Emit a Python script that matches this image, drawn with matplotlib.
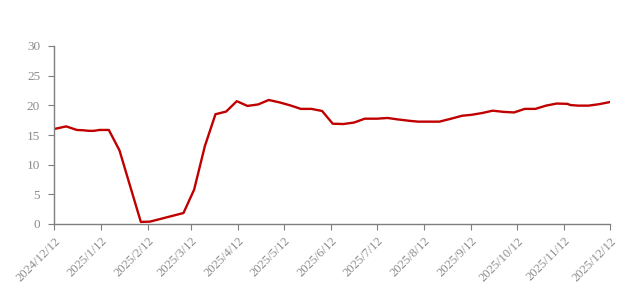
import matplotlib
matplotlib.use("Agg")
import matplotlib.pyplot as plt
import matplotlib.transforms as mtransforms
import pandas as pd

dates = ["2024-12-12", "2024-12-20", "2024-12-27", "2024-12-31", "2025-01-04",
         "2025-01-07", "2025-01-11", "2025-01-17", "2025-01-24", "2025-02-07",
         "2025-02-13", "2025-03-07", "2025-03-14", "2025-03-21", "2025-03-28",
         "2025-04-04", "2025-04-11", "2025-04-18", "2025-04-25", "2025-05-02",
         "2025-05-09", "2025-05-16", "2025-05-23", "2025-05-30", "2025-06-06",
         "2025-06-13", "2025-06-20", "2025-06-27", "2025-07-04", "2025-07-12",
         "2025-07-19", "2025-07-25", "2025-08-02", "2025-08-08", "2025-08-16",
         "2025-08-22", "2025-08-29", "2025-09-06", "2025-09-12", "2025-09-19",
         "2025-09-26", "2025-10-03", "2025-10-10", "2025-10-17", "2025-10-24",
         "2025-10-31", "2025-11-07", "2025-11-14", "2025-11-16", "2025-11-21",
         "2025-11-28", "2025-12-05", "2025-12-12"]
values = [16.0, 16.45, 15.85, 15.8, 15.7,
          15.7, 15.85, 15.85, 12.4, 0.35,
          0.4, 1.85, 5.8, 13.1, 18.5,
          18.95, 20.7, 19.9, 20.15, 20.9,
          20.5, 20.0, 19.4, 19.4, 19.05,
          16.9, 16.85, 17.1, 17.75, 17.75,
          17.87, 17.65, 17.4, 17.25, 17.25,
          17.25, 17.7, 18.25, 18.4, 18.7,
          19.1, 18.9, 18.8, 19.4, 19.4,
          19.95, 20.3, 20.25, 20.05, 19.95,
          19.95, 20.2, 20.56]
tick_dates = ["2024-12-12", "2025-01-12", "2025-02-12", "2025-03-12", "2025-04-12",
              "2025-05-12", "2025-06-12", "2025-07-12", "2025-08-12", "2025-09-12",
              "2025-10-12", "2025-11-12", "2025-12-12"]
tick_labels = ["2024/12/12", "2025/1/12", "2025/2/12", "2025/3/12", "2025/4/12",
               "2025/5/12", "2025/6/12", "2025/7/12", "2025/8/12", "2025/9/12",
               "2025/10/12", "2025/11/12", "2025/12/12"]
y_ticks = [0, 5, 10, 15, 20, 25, 30]

plt.rcParams['font.family'] = ['Liberation Serif', 'DejaVu Serif']
grey = "#7f7f7f"
label_grey = "#8c8c8c"

fig = plt.figure(figsize=(6.27, 2.93), dpi=100)
ax = fig.add_axes([54/627, 69/293, (610-54)/627, (224-46)/293])

x = pd.to_datetime(dates)
ax.plot(x, values, color="#C00000", lw=1.7, solid_joinstyle="round")

tx = pd.to_datetime(tick_dates)
ax.set_xlim(tx[0], tx[-1])
ax.set_ylim(0, 30)
ax.set_xticks(tx)
ax.set_xticklabels(tick_labels, rotation=45, ha="right", rotation_mode="anchor",
                   fontsize=9, color=label_grey)
ax.set_yticks(y_ticks)
ax.set_yticklabels([str(v) for v in y_ticks], fontsize=9.5, color=label_grey)

offset = mtransforms.ScaledTranslation(5/100, -2/100, fig.dpi_scale_trans)
for lbl in ax.get_xticklabels():
    lbl.set_transform(lbl.get_transform() + offset)

for s in ["top", "right"]:
    ax.spines[s].set_visible(False)
for s in ["left", "bottom"]:
    ax.spines[s].set_color(grey)
    ax.spines[s].set_linewidth(1.0)
ax.tick_params(axis="x", length=4, color=grey, pad=4)
ax.tick_params(axis="y", length=4, color=grey, pad=6)

fig.savefig("out.png", dpi=100)
